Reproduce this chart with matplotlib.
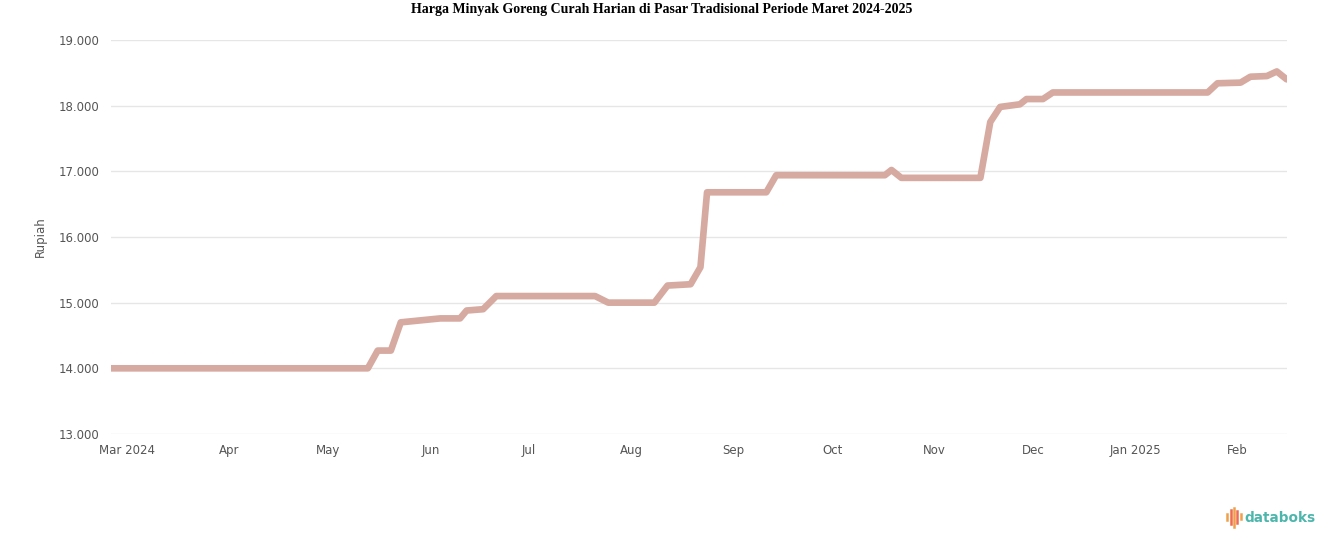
import pandas as pd
import matplotlib.pyplot as plt
from matplotlib.ticker import FuncFormatter
from matplotlib.lines import Line2D

# ---------------- DATA ----------------
dates = [
    "2024-02-25", "2024-05-13", "2024-05-16", "2024-05-20", "2024-05-23",
    "2024-06-04", "2024-06-10", "2024-06-12", "2024-06-17", "2024-06-21",
    "2024-07-21", "2024-07-25", "2024-08-08", "2024-08-12", "2024-08-19",
    "2024-08-22", "2024-08-24", "2024-09-11", "2024-09-14", "2024-10-17",
    "2024-10-19", "2024-10-22", "2024-11-15", "2024-11-18", "2024-11-21",
    "2024-11-27", "2024-11-29", "2024-12-04", "2024-12-07", "2025-01-23",
    "2025-01-26", "2025-02-02", "2025-02-05", "2025-02-10", "2025-02-13",
    "2025-02-16",
]
prices = [
    14000, 14000, 14270, 14270, 14700,
    14760, 14760, 14880, 14900, 15100,
    15100, 15000, 15000, 15260, 15280,
    15540, 16680, 16680, 16940, 16940,
    17020, 16900, 16900, 17750, 17980,
    18020, 18100, 18100, 18200, 18200,
    18340, 18350, 18440, 18450, 18520,
    18400,
]
tick_months = ["2024-03-01", "2024-04-01", "2024-05-01", "2024-06-01",
               "2024-07-01", "2024-08-01", "2024-09-01", "2024-10-01",
               "2024-11-01", "2024-12-01", "2025-01-01", "2025-02-01"]
tick_labels = ["Mar 2024", "Apr", "May", "Jun", "Jul", "Aug", "Sep",
               "Oct", "Nov", "Dec", "Jan 2025", "Feb"]
y_ticks = [13000, 14000, 15000, 16000, 17000, 18000, 19000]

title = "Harga Minyak Goreng Curah Harian di Pasar Tradisional Periode Maret 2024-2025"

df = pd.DataFrame({"date": pd.to_datetime(dates), "price": prices})

# ---------------- FIGURE ----------------
fig = plt.figure(figsize=(13.24, 5.47), dpi=100)
ax = fig.add_axes([0.0838, 0.2066, 0.888, 0.7204])

ax.plot(df["date"], df["price"], color="#d6aaa0", linewidth=4.8,
        solid_capstyle="round", solid_joinstyle="round", zorder=3)

ax.set_xlim(df["date"].iloc[0], df["date"].iloc[-1])
ax.set_ylim(13000, 19000)
ax.set_yticks(y_ticks)
ax.yaxis.set_major_formatter(
    FuncFormatter(lambda v, p: f"{int(v):,}".replace(",", "."))
)
ax.set_xticks(pd.to_datetime(tick_months))
ax.set_xticklabels(tick_labels)

ax.grid(axis="y", color="#e6e6e6", linewidth=1)
ax.set_axisbelow(True)
for s in ax.spines.values():
    s.set_visible(False)
ax.tick_params(axis="both", length=0, labelsize=8.5, colors="#555555")
ax.tick_params(axis="y", pad=8)
ax.tick_params(axis="x", pad=7)

ax.set_ylabel("Rupiah", fontsize=8.5, color="#555555", labelpad=9)

fig.suptitle(title, y=0.995, fontsize=10, fontweight="bold",
             family="Liberation Serif", va="top")

# databoks logo
bar_colors = ["#f0a04b", "#ee6a50", "#f0a04b", "#ee6a50", "#f0a04b"]
bar_x = [0.9270, 0.9295, 0.9320, 0.9345, 0.9370]
bar_top = [0.060, 0.068, 0.072, 0.066, 0.060]
bar_bot = [0.050, 0.042, 0.036, 0.044, 0.052]
for bx, bt, bb, bc in zip(bar_x, bar_top, bar_bot, bar_colors):
    fig.add_artist(Line2D([bx, bx], [bb, bt], color=bc, linewidth=1.8,
                          transform=fig.transFigure))
fig.text(0.9395, 0.053, "databoks", fontsize=9.8, color="#4db6ac",
         fontweight="bold", va="center", ha="left")

fig.savefig("out.png", dpi=100)
